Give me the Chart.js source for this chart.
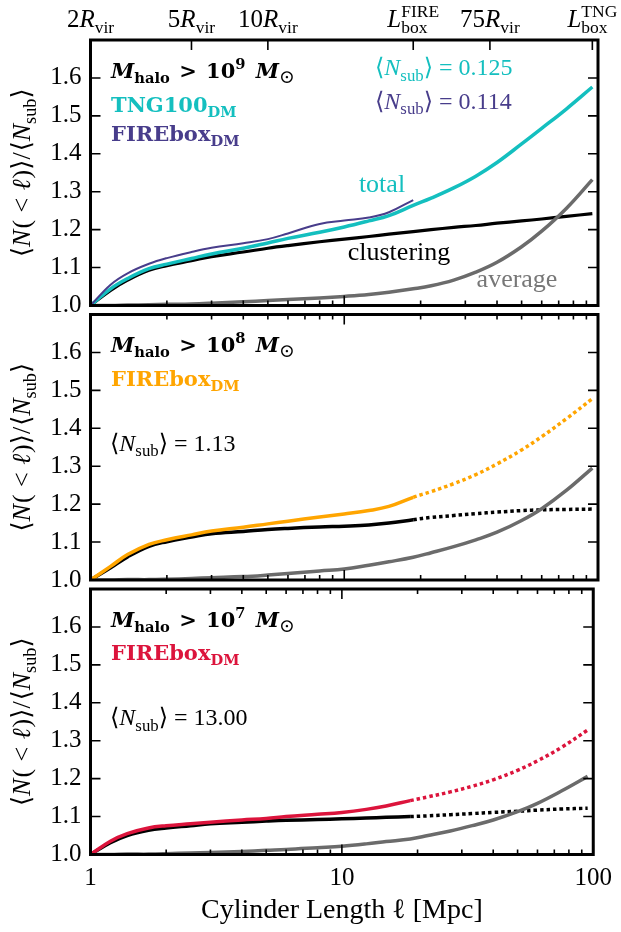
<!DOCTYPE html>
<html><head><meta charset="utf-8">
<script src="https://cdn.jsdelivr.net/npm/chart.js@4.4.1/dist/chart.umd.min.js"></script>
<style>
html,body{margin:0;padding:0;background:#fff;}
#wrap{position:relative;width:621px;height:932px;background:#fff;}
canvas{position:absolute;left:0;top:0;}
</style></head><body>
<div id="wrap">
<canvas id="p1" width="621" height="932"></canvas>
<canvas id="p2" width="621" height="932"></canvas>
<canvas id="p3" width="621" height="932"></canvas>
</div>
<script>
// ---------------- data ----------------
const lengths     = [1, 1.2, 1.4, 1.7, 2, 2.5, 3, 4, 5, 6, 8, 10, 12.5, 15, 18.7, 22, 27, 33, 40, 50, 60, 75, 95];
const lengthsFIRE = [1, 1.2, 1.4, 1.7, 2, 2.5, 3, 4, 5, 6, 8, 10, 12.5, 15, 18.7];

// Panel 1: M_halo > 1e9
const totalTNG9  = [1.000,1.044,1.071,1.097,1.109,1.124,1.136,1.151,1.165,1.177,1.193,1.207,1.223,1.237,1.264,1.283,1.310,1.341,1.377,1.426,1.467,1.518,1.576];
const totalFIRE9 = [1.000,1.055,1.085,1.110,1.125,1.141,1.152,1.164,1.175,1.190,1.215,1.224,1.232,1.246,1.278];
const cluster9   = [1.000,1.040,1.067,1.093,1.105,1.118,1.129,1.141,1.151,1.158,1.168,1.175,1.182,1.188,1.195,1.200,1.206,1.211,1.217,1.223,1.228,1.235,1.242];
const average9   = [1.000,1.000,1.001,1.002,1.003,1.004,1.006,1.010,1.013,1.016,1.020,1.024,1.029,1.035,1.044,1.052,1.067,1.088,1.114,1.155,1.196,1.256,1.332];
// Panel 2: M_halo > 1e8
const totalFIRE8 = [1.000,1.036,1.067,1.094,1.106,1.119,1.129,1.139,1.148,1.155,1.166,1.174,1.183,1.194,1.218,1.233,1.254,1.278,1.306,1.343,1.378,1.425,1.478];
const cluster8   = [1.000,1.032,1.061,1.089,1.101,1.113,1.122,1.128,1.133,1.136,1.140,1.142,1.145,1.150,1.159,1.165,1.170,1.175,1.179,1.183,1.185,1.186,1.187];
const average8   = [1.000,1.000,1.001,1.001,1.002,1.004,1.006,1.009,1.013,1.017,1.024,1.029,1.039,1.048,1.060,1.072,1.088,1.106,1.126,1.157,1.188,1.236,1.295];
// Panel 3: M_halo > 1e7
const totalFIRE7 = [1.000,1.035,1.055,1.070,1.076,1.081,1.085,1.091,1.095,1.100,1.106,1.111,1.119,1.128,1.142,1.152,1.165,1.180,1.197,1.222,1.247,1.283,1.328];
const cluster7   = [1.000,1.031,1.050,1.064,1.070,1.076,1.081,1.085,1.088,1.090,1.092,1.094,1.096,1.098,1.100,1.102,1.105,1.108,1.111,1.114,1.117,1.120,1.122];
const average7   = [1.000,1.000,1.001,1.001,1.002,1.004,1.005,1.008,1.011,1.013,1.018,1.022,1.028,1.034,1.041,1.050,1.062,1.076,1.091,1.113,1.135,1.168,1.206];

// ticks and labels
const yTicks        = [1.0, 1.1, 1.2, 1.3, 1.4, 1.5, 1.6, 1.7];
const xMajorTicks   = [1, 10, 100];
const xMinorTicks   = [2, 3, 4, 5, 6, 7, 8, 9, 20, 30, 40, 50, 60, 70, 80, 90];
const xTickLabels   = ['1', '10', '100'];
const topTickValues = [1, 2.5, 5, 18.7, 37.5, 95];
const topTickLabels = ['2R_vir', '5R_vir', '10R_vir', 'L_box^FIRE', '75R_vir', 'L_box^TNG'];
const massCuts      = ['9', '8', '7'];
const nSubTexts     = ['0.125', '0.114', '1.13', '13.00'];
const L_FIRE = 18.7;

// ---------------- styling ----------------
const SERIF = '"Liberation Serif", "DejaVu Serif", serif';
const BOLD  = '"DejaVu Serif", serif';
const C_CYAN = '#14bfbf', C_PURPLE = '#483d8b', C_ORANGE = '#ffa500', C_RED = '#dc143c', C_GRAY = '#6b6b6b';

function fontFor(st, pos, size, scale) {
  const s = pos ? size * (scale || 0.7) : size;
  const fam = (st === 'b' || st === 'bi') ? BOLD : SERIF;
  const pre = st === 'i' ? 'italic ' : st === 'b' ? 'bold ' : st === 'bi' ? 'italic bold ' : '';
  return pre + s.toFixed(2) + 'px ' + fam;
}
function runWidth(ctx, r, size) {
  if (r.stack) {
    ctx.font = fontFor(r.st, 'sub', size);
    return Math.max(ctx.measureText(r.stack[0]).width, ctx.measureText(r.stack[1]).width);
  }
  ctx.font = fontFor(r.st, r.pos, size, r.scale);
  return ctx.measureText(r.t).width + (r.kern || 0);
}
function drawRich(ctx, runs, x, y, size, color, align) {
  let w = 0;
  runs.forEach(r => w += runWidth(ctx, r, size));
  let cx = align === 'center' ? x - w / 2 : x;
  ctx.fillStyle = color;
  ctx.textBaseline = 'alphabetic';
  ctx.textAlign = 'left';
  runs.forEach(r => {
    const rw = runWidth(ctx, r, size);
    if (r.stack) {
      ctx.font = fontFor(r.st, 'sub', size);
      ctx.fillText(r.stack[0], cx, y + size * 0.24);
      ctx.fillText(r.stack[1], cx, y - size * 0.42);
    } else {
      ctx.font = fontFor(r.st, r.pos, size, r.scale);
      const dy = r.pos === 'sub' ? size * 0.24 : r.pos === 'sup' ? -size * 0.42 : 0;
      ctx.fillText(r.t, cx + (r.pre || 0), y + dy);
    }
    cx += rw;
  });
}
function topLabelRuns(label) {
  const m = label.match(/^(\d*)([A-Z])_(\w+)(?:\^(\w+))?$/);
  const runs = [];
  if (m[1]) runs.push({t: m[1], st: 'r'});
  runs.push({t: m[2], st: 'i'});
  if (m[4]) runs.push({stack: [m[3], m[4]], st: 'r'});
  else runs.push({t: m[3], st: 'r', pos: 'sub'});
  return runs;
}
const massRuns = cut => [
  {t: 'M', st: 'bi'}, {t: 'halo', st: 'b', pos: 'sub'}, {t: ' > ', st: 'b', kern: 4, pre: 2},
  {t: '10', st: 'b'}, {t: cut, st: 'b', pos: 'sup', kern: 3}, {t: ' M', st: 'bi'}, {t: '⊙', st: 'r', pos: 'sub', scale: 0.9}
];
const simRuns = name => [{t: name, st: 'b'}, {t: 'DM', st: 'b', pos: 'sub'}];
const nSubRuns = val => [
  {t: '⟨', st: 'r'}, {t: 'N', st: 'i'}, {t: 'sub', st: 'r', pos: 'sub'}, {t: '⟩ = ', st: 'r'}, {t: val, st: 'r'}
];
const yTitleRuns = [
  {t: '⟨', st: 'r'}, {t: 'N', st: 'i', kern: 1}, {t: '(', st: 'r'}, {t: ' < ', st: 'r', kern: 2, pre: 1}, {t: 'ℓ', st: 'i', kern: 1},
  {t: ')', st: 'r'}, {t: '⟩', st: 'r'}, {t: '/', st: 'r', kern: 1}, {t: '⟨', st: 'r'}, {t: 'N', st: 'i'}, {t: 'sub', st: 'r', pos: 'sub'}, {t: '⟩', st: 'r'}
];

const framePlugin = {
  id: 'frame',
  afterDraw(chart, args, opts) {
    const {ctx, chartArea: a} = chart;
    const xs = chart.scales.x, ys = chart.scales.y;
    ctx.save();
    ctx.strokeStyle = '#000';
    ctx.lineWidth = 1.6;
    ctx.beginPath();
    yTicks.forEach(v => {
      const py = ys.getPixelForValue(v);
      ctx.moveTo(a.left, py); ctx.lineTo(a.left + 10, py);
      ctx.moveTo(a.right, py); ctx.lineTo(a.right - 10, py);
    });
    const mirrorTop = opts.panel !== 0;
    const tickX = (v, len, top, bottom) => {
      const px = xs.getPixelForValue(v);
      if (bottom) { ctx.moveTo(px, a.bottom); ctx.lineTo(px, a.bottom - len); }
      if (top) { ctx.moveTo(px, a.top); ctx.lineTo(px, a.top + len); }
    };
    xMajorTicks.forEach(v => tickX(v, 10, mirrorTop, true));
    xMinorTicks.forEach(v => tickX(v, 5, mirrorTop, true));
    if (!mirrorTop) topTickValues.forEach(v => tickX(v, 10, true, false));
    ctx.stroke();
    ctx.lineWidth = 3;
    ctx.strokeRect(a.left, a.top, a.right - a.left, a.bottom - a.top);

    // y title
    ctx.save();
    ctx.translate(22, (a.top + a.bottom) / 2);
    ctx.rotate(-Math.PI / 2);
    drawRich(ctx, yTitleRuns, 0, 8, 26, '#000', 'center');
    ctx.restore();

    const T = a.top;
    const p = opts.panel;
    drawRich(ctx, massRuns(massCuts[p]), 111, T + 37.5, 21, '#000');
    if (p === 0) {
      topTickValues.forEach((v, i) => drawRich(ctx, topLabelRuns(topTickLabels[i]), xs.getPixelForValue(v), 27, 25, '#000', 'center'));
      drawRich(ctx, simRuns('TNG100'), 111, T + 72, 21, C_CYAN);
      drawRich(ctx, simRuns('FIREbox'), 111, T + 100.5, 21, C_PURPLE);
      drawRich(ctx, nSubRuns(nSubTexts[0]), 375, T + 35, 24, C_CYAN);
      drawRich(ctx, nSubRuns(nSubTexts[1]), 375, T + 68.5, 24, C_PURPLE);
      drawRich(ctx, [{t: 'total', st: 'r'}], 382, T + 152, 26, C_CYAN, 'center');
      drawRich(ctx, [{t: 'clustering', st: 'r'}], 399, T + 220, 26, '#000', 'center');
      drawRich(ctx, [{t: 'average', st: 'r'}], 517, T + 247, 26, '#777', 'center');
    } else {
      drawRich(ctx, simRuns('FIREbox'), 111, T + 71, 21, p === 1 ? C_ORANGE : C_RED);
      drawRich(ctx, nSubRuns(nSubTexts[p + 1]), 110, T + 136, 24, '#000');
    }
    ctx.restore();
  }
};

function ds(xs, ys, color, width, dotted) {
  const d = {
    data: xs.map((x, i) => ({x: x, y: ys[i]})),
    borderColor: color, borderWidth: width, pointRadius: 0, fill: false,
    tension: 0.4, borderCapStyle: 'butt', borderJoinStyle: 'round'
  };
  if (dotted) d.segment = {borderDash: c => (c.p0.parsed.x >= L_FIRE - 1e-6 ? [3.5, 3] : undefined)};
  return d;
}

Chart.defaults.font.family = SERIF;
Chart.defaults.font.size = 24;
Chart.defaults.color = '#000';

function makeChart(id, panel, datasets, padTop, padBottom, showX) {
  return new Chart(document.getElementById(id), {
    type: 'line',
    data: {datasets: datasets},
    plugins: [framePlugin],
    options: {
      responsive: false, animation: false, devicePixelRatio: 1,
      layout: {padding: {left: 0, right: 23, top: padTop, bottom: padBottom}},
      plugins: {legend: {display: false}, tooltip: {enabled: false}, frame: {panel: panel}},
      scales: {
        x: {
          type: 'logarithmic', min: 1, max: 100, display: showX,
          grid: {display: false, drawTicks: false}, border: {display: false},
          afterBuildTicks: s => { s.ticks = xMajorTicks.map(v => ({value: v})); },
          afterFit: s => { if (showX) s.height = 932 - 854.5; },
          ticks: {autoSkip: false, maxRotation: 0, padding: 9, color: '#000',
                  font: {family: SERIF, size: 25},
                  callback: (v) => xTickLabels[xMajorTicks.indexOf(v)] ?? ''},
          title: {display: showX, text: 'Cylinder Length ℓ [Mpc]', color: '#000',
                  font: {family: SERIF, size: 28}, padding: {top: 0, bottom: 5}}
        },
        y: {
          type: 'linear', min: 1.0, max: 1.7,
          grid: {display: false, drawTicks: false}, border: {display: false},
          afterFit: s => { s.width = 90.5; },
          afterBuildTicks: s => { s.ticks = yTicks.map(v => ({value: v})); },
          ticks: {padding: 9, color: '#000', font: {family: SERIF, size: 25},
                  callback: v => (Math.abs(v - 1.7) < 1e-6 ? '' : v.toFixed(1))}
        }
      }
    }
  });
}

makeChart('p1', 0, [
  ds(lengthsFIRE, totalFIRE9, C_PURPLE, 2, false),
  ds(lengths, totalTNG9, C_CYAN, 3.5, false),
  ds(lengths, average9, C_GRAY, 3.5, false),
  ds(lengths, cluster9, '#000', 3.2, false)
], 40, 932 - 305.5, false);

makeChart('p2', 1, [
  ds(lengths, totalFIRE8, C_ORANGE, 3.5, true),
  ds(lengths, average8, C_GRAY, 3.5, false),
  ds(lengths, cluster8, '#000', 3.5, true)
], 314.5, 932 - 580, false);

makeChart('p3', 2, [
  ds(lengths, totalFIRE7, C_RED, 3.5, true),
  ds(lengths, average7, C_GRAY, 3.5, false),
  ds(lengths, cluster7, '#000', 3.5, true)
], 589, 0, true);
</script>
</body></html>
